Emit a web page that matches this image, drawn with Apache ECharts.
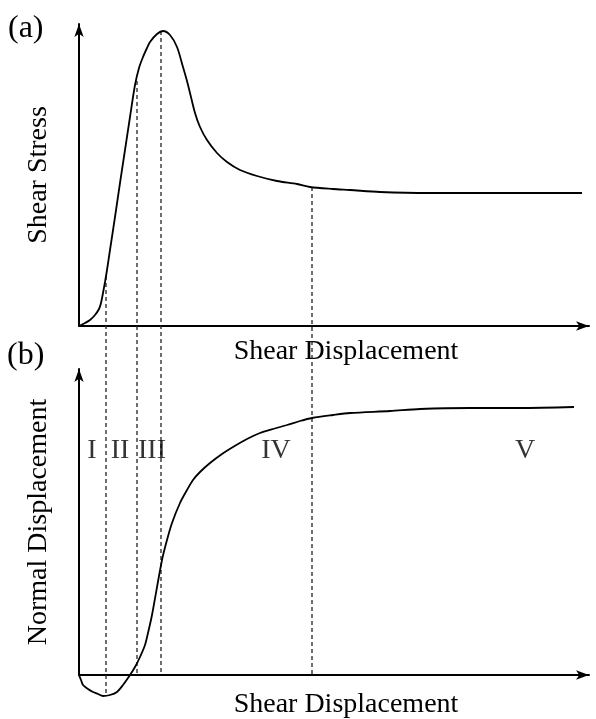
<!DOCTYPE html>
<html>
<head>
<meta charset="utf-8">
<script src="https://cdn.jsdelivr.net/npm/echarts@6/dist/echarts.min.js"></script>
<style>html,body{margin:0;padding:0;background:#fff;}#c{width:596px;height:719px;}</style>
</head>
<body>
<div id="c"></div>
<script>
// ---- data (arbitrary units) ----
const stressX = [0, 6, 11, 16, 20, 22, 24, 26, 28, 31, 36, 41, 46, 51, 56, 60, 64, 68, 71, 78, 84, 91, 98, 104, 108, 111, 116, 121, 128, 138, 148, 161, 178, 198, 218, 231, 254, 271, 301, 351, 401, 503];
const stressY = [0, 3, 6, 11, 17, 23, 33, 44, 56, 76, 109, 143, 176, 209, 241, 258, 269, 278, 284, 292, 295, 291, 279, 259, 245, 233, 213, 199, 186, 173, 164, 156, 150, 145, 142, 139, 137, 136, 134, 133, 133, 133];

const normalX = [0, 2, 4, 9, 14, 19, 24, 31, 38, 44, 51, 56, 61, 66, 69, 73, 83, 88, 93, 101, 108, 114, 121, 131, 143, 154, 168, 181, 194, 208, 221, 233, 254, 271, 311, 341, 391, 441, 495];
const normalY = [0, -5, -10, -14, -17, -19, -21, -20, -17, -10, 0, 8, 18, 30, 42, 60, 115, 135, 152, 172, 185, 195, 203, 212, 221, 228, 236, 242, 246, 250, 254, 257, 260, 262, 264, 266, 267, 267, 268];

// stage boundaries: x position, stress value at top end, normal displacement at bottom end
const boundaryX = [27, 58, 82, 233];
const boundaryStress = [50, 245, 295, 139];
const boundaryNormal = [-20, 0, 0, 0];

const stageLabels = ['I', 'II', 'III', 'IV', 'V'];
const stageLabelX = [13, 41, 73, 197, 446];
const stageLabelY = 224;

const xName = 'Shear Displacement';
const yNameTop = 'Shear Stress';
const yNameBottom = 'Normal Displacement';

// ---- layout ----
const PANEL_GAP = 349; // vertical distance between the two zero lines, in value units (1 unit = 1 px)
const FONT = 'Liberation Serif, Times New Roman, serif';

const zip = (xs, ys) => xs.map((x, i) => [x, ys[i]]);

const axisLineStyle = {
  show: true,
  lineStyle: { color: '#000', width: 2 },
  symbol: ['none', 'arrow'],
  symbolSize: [7, 13]
};

const series = [
  {
    type: 'line', xAxisIndex: 0, yAxisIndex: 0,
    data: zip(stressX, stressY), smooth: 0.3,
    symbol: 'none', lineStyle: { color: '#000', width: 1.8 }, clip: false, z: 3
  },
  {
    type: 'line', xAxisIndex: 1, yAxisIndex: 1,
    data: zip(normalX, normalY), smooth: 0.3,
    symbol: 'none', lineStyle: { color: '#000', width: 1.8 }, clip: false, z: 3
  },
  {
    type: 'scatter', xAxisIndex: 1, yAxisIndex: 1,
    data: stageLabels.map((t, i) => ({ value: [stageLabelX[i], stageLabelY], name: t })),
    symbolSize: 0, silent: true,
    label: { show: true, position: 'inside', formatter: p => p.name,
      fontFamily: FONT, fontSize: 28, color: '#000' }
  }
];

boundaryX.forEach((bx, i) => {
  series.push({
    type: 'line', xAxisIndex: 0, yAxisIndex: 0,
    data: [[bx, boundaryStress[i]], [bx, boundaryNormal[i] - PANEL_GAP]],
    symbol: 'none', clip: false, silent: true, z: 2,
    lineStyle: { color: '#222', width: 1.3, type: [4, 3] }
  });
});

const chart = echarts.init(document.getElementById('c'), null, { renderer: 'canvas' });
chart.setOption({
  animation: false,
  backgroundColor: '#fff',
  grid: [
    { left: 79, right: 7, top: 24, bottom: 393 },
    { left: 79, right: 7, top: 369, bottom: 44 }
  ],
  xAxis: [0, 1].map(g => ({
    type: 'value', gridIndex: g, min: 0, max: 510,
    axisLine: axisLineStyle, axisTick: { show: false }, axisLabel: { show: false }, splitLine: { show: false }
  })),
  yAxis: [
    { type: 'value', gridIndex: 0, min: 0, max: 302,
      name: yNameTop, nameLocation: 'middle', nameGap: 26, nameRotate: 90,
      nameTextStyle: { fontFamily: FONT, fontSize: 28, color: '#000' },
      axisLine: axisLineStyle, axisTick: { show: false }, axisLabel: { show: false }, splitLine: { show: false } },
    { type: 'value', gridIndex: 1, min: 0, max: 306,
      name: yNameBottom, nameLocation: 'middle', nameGap: 26, nameRotate: 90,
      nameTextStyle: { fontFamily: FONT, fontSize: 28, color: '#000' },
      axisLine: axisLineStyle, axisTick: { show: false }, axisLabel: { show: false }, splitLine: { show: false } }
  ],
  graphic: [
    { type: 'text', left: 8, top: 13, style: { text: '(a)', font: '32px ' + FONT, fill: '#000' } },
    { type: 'text', left: 7, top: 340, style: { text: '(b)', font: '32px ' + FONT, fill: '#000' } },
    { type: 'text', x: 346, y: 352, style: { text: xName, font: '28px ' + FONT, fill: '#000', align: 'center', verticalAlign: 'middle' } },
    { type: 'text', x: 346, y: 705, style: { text: xName, font: '28px ' + FONT, fill: '#000', align: 'center', verticalAlign: 'middle' } }
  ],
  series: series
});
</script>
</body>
</html>
